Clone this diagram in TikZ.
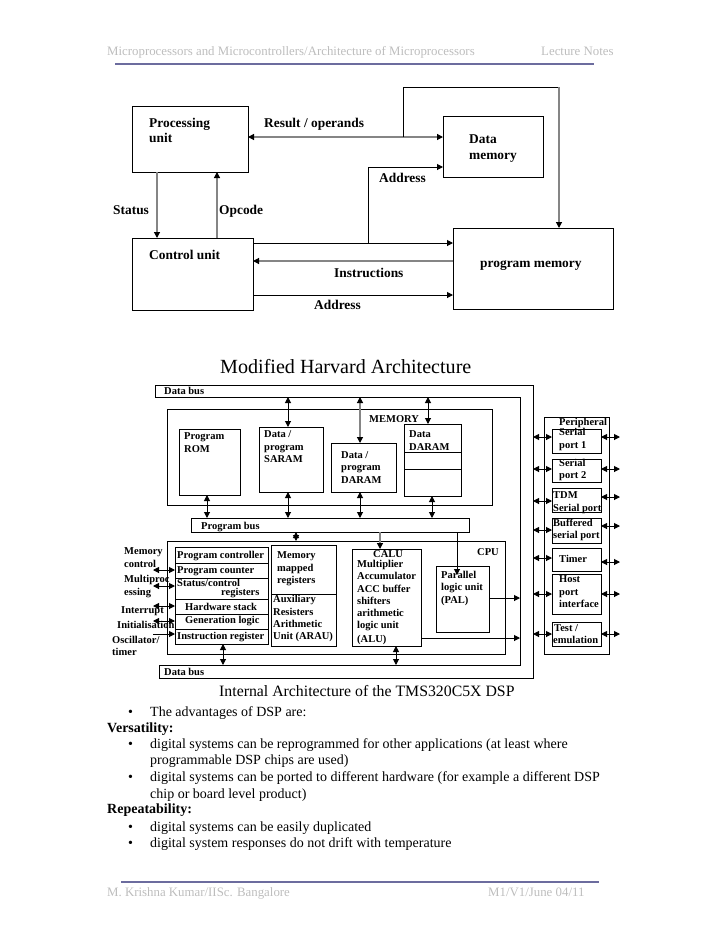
\documentclass[tikz,border=0pt]{standalone}
\usepackage{fontspec}
\setmainfont{Liberation Serif}
\usepackage{xcolor}
\usetikzlibrary{positioning,calc,arrows.meta}
\definecolor{rulecol}{HTML}{6C6C9E}
\definecolor{linkgray}{HTML}{858585}
\definecolor{headgray}{HTML}{BDBDBD}
\tikzset{
    block/.style={draw=black, line width=1pt, inner sep=0pt, outer sep=0pt, anchor=north west},
    band/.style={inner sep=0pt, outer sep=0pt, anchor=north west},
    lbl/.style={anchor=base west, inner sep=0pt, font=\fontsize{13.4}{15}\selectfont\bfseries},
    smalllbl/.style={anchor=base west, inner sep=0pt, font=\fontsize{10.5}{13}\selectfont\bfseries},
    bodytxt/.style={anchor=base west, inner sep=0pt, font=\fontsize{14}{16}\selectfont},
    boldtxt/.style={anchor=base west, inner sep=0pt, font=\fontsize{14}{16}\selectfont\bfseries},
    graytxt/.style={anchor=base west, inner sep=0pt, text=headgray, font=\fontsize{12.85}{15}\selectfont},
    titletxt/.style={anchor=base west, inner sep=0pt},
    link/.style={line width=1pt, >={Triangle[length=6pt,width=6pt]}},
    graylink/.style={link, draw=linkgray, line width=1.2pt, >={Triangle[length=6pt,width=6pt,color=black]}},
    blackrule/.style={draw=rulecol, line width=2pt}
}
% rectangle node given by its corners: name, x1, y1, x2, y2
\newcommand{\blockat}[6][block]{\node[#1, minimum width={(#5-#3)*1pt}, minimum height={(#6-#4)*1pt}] (#2) at (#3,#4) {};}
\begin{document}
\begin{tikzpicture}[x=1pt, y=-1pt]
    \useasboundingbox (0,0) rectangle (728,943);

    % page header
    \node[graytxt] (headleft) at (107,55) {Microprocessors and Microcontrollers/Architecture of Microprocessors};
    \node[graytxt] (headright) at (541,55) {Lecture Notes};
    \coordinate (headA) at (115,64);
    \coordinate (headB) at (594,64);
    \draw[blackrule] (headA) -- (headB);

    % first diagram
    \blockat{proc}{132}{106}{248}{172}
    \blockat{dmem}{443}{116}{543}{177}
    \blockat{ctrl}{132}{238}{253}{310}
    \blockat{pmem}{453}{228}{613}{309}

    \coordinate (resA) at (403,137);
    \coordinate (resB) at (403,87);
    \coordinate (resC) at (559,87);
    \coordinate (addrA) at (368,243);
    \draw[graylink, <->] (proc.east |- resA) -- (dmem.west |- resA);
    \draw[link] (resA) -- (resB) -- (resC);
    \draw[graylink, ->] (resC) -- (pmem.north -| resC);
    \draw[link, ->] (addrA) |- (dmem.west |- 0,167);
    \draw[graylink, ->] (proc.south -| 157,0) -- (ctrl.north -| 157,0);
    \draw[graylink, ->] (ctrl.north -| 217,0) -- (proc.south -| 217,0);
    \draw[link, ->] (ctrl.east |- 0,243) -- (pmem.west |- 0,243);
    \draw[graylink, ->] (pmem.west |- 0,261) -- (ctrl.east |- 0,261);
    \draw[link, ->] (ctrl.east |- 0,295) -- (pmem.west |- 0,295);

    \node[lbl] (procA) at (149,127) {Processing};
    \node[lbl] (procB) at (149,142) {unit};
    \node[lbl] (lresult) at (264,127) {Result / operands};
    \node[lbl] (dmemA) at (469,143) {Data};
    \node[lbl] (dmemB) at (469,159) {memory};
    \node[lbl] (laddrA) at (379,182) {Address};
    \node[lbl] (lstatus) at (113,214) {Status};
    \node[lbl] (lopcode) at (219,214) {Opcode};
    \node[lbl] (ctrlA) at (149,259) {Control unit};
    \node[lbl] (pmemA) at (480,267) {program memory};
    \node[lbl] (linstr) at (334,277) {Instructions};
    \node[lbl] (laddrB) at (314,309) {Address};

    \node[titletxt, font=\fontsize{20.1}{23}\selectfont] (titleA) at (220,373) {Modified Harvard Architecture};

    % second diagram, the bus around the chip
    \node[band, minimum width=378pt, minimum height=12pt] (topbus) at (155,385) {};
    \node[band, minimum width=13pt, minimum height=268pt] (sidebus) at (520,397) {};
    \node[band, minimum width=374pt, minimum height=13pt] (botbus) at (159,665) {};
    \draw[line width=1pt] (topbus.north west) -- (topbus.north east) -- (botbus.south east)
        -- (botbus.south west) -- (botbus.north west) -- (sidebus.south west)
        -- (sidebus.north west) -- (topbus.south west) -- cycle;
    \node[smalllbl] (ltopbus) at (164,394) {Data bus};
    \node[smalllbl] (lbotbus) at (164,675) {Data bus};

    % memory
    \blockat{mem}{167}{409}{492}{505}
    \blockat{rom}{179}{429}{240}{495}
    \blockat{saram}{259}{427}{323}{492}
    \blockat{daramA}{331}{443}{396}{492}
    \blockat{daramB}{404}{424}{461}{496}
    \draw[link] (daramB.west |- 0,452) -- (daramB.east |- 0,452);
    \draw[link] (daramB.west |- 0,469) -- (daramB.east |- 0,469);
    \blockat{pbus}{191}{518}{469}{532}

    \draw[link, <->] (topbus.south -| 288,0) -- (saram.north -| 288,0);
    \draw[graylink, <->] (topbus.south -| 360,0) -- (daramA.north -| 360,0);
    \draw[link, <->] (topbus.south -| 428,0) -- (daramB.north -| 428,0);
    \draw[link, <->] (rom.south -| 207,0) -- (pbus.north -| 207,0);
    \draw[link, <->] (saram.south -| 288,0) -- (pbus.north -| 288,0);
    \draw[link, <->] (daramA.south -| 360,0) -- (pbus.north -| 360,0);
    \draw[link, <->] (daramB.south -| 432,0) -- (pbus.north -| 432,0);

    \node[smalllbl] (lmem) at (369,422) {MEMORY};
    \node[smalllbl] (romA) at (184,439) {Program};
    \node[smalllbl] (romB) at (184,452) {ROM};
    \node[smalllbl] (saramA) at (264,437) {Data /};
    \node[smalllbl] (saramB) at (264,450) {program};
    \node[smalllbl] (saramC) at (264,462) {SARAM};
    \node[smalllbl] (daramAa) at (341,458) {Data /};
    \node[smalllbl] (daramAb) at (341,470) {program};
    \node[smalllbl] (daramAc) at (341,483) {DARAM};
    \node[smalllbl] (daramBa) at (409,437) {Data};
    \node[smalllbl] (daramBb) at (409,450) {DARAM};
    \node[smalllbl] (lpbus) at (201,529) {Program bus};

    % cpu
    \blockat{cpu}{167}{541}{505}{654}
    \blockat{stack}{175}{547}{268}{644}
    \foreach \y in {563,578,599,614,629}
        \draw[link] (stack.west |- 0,\y) -- (stack.east |- 0,\y);
    \blockat{regs}{271}{545}{336}{646}
    \draw[link] (regs.west |- 0,594) -- (regs.east |- 0,594);
    \blockat{calu}{352}{549}{421}{646}
    \blockat{pal}{436}{566}{489}{632}
    \coordinate (palin) at (457,575);

    \draw[link, <->] (pbus.south -| 296,0) -- (cpu.north -| 296,0);
    \draw[graylink, ->] (pbus.south -| 380,0) -- (calu.north -| 380,0);
    \draw[link, ->] (pbus.south -| 457,0) -- (palin);
    \draw[link, ->] (pal.east |- 0,598) -- (sidebus.west |- 0,598);
    \draw[link, ->] (calu.east |- 0,638) -- (sidebus.west |- 0,638);
    \draw[link, <->] (calu.south -| 396,0) -- (botbus.north -| 396,0);
    \draw[link, <->] (stack.south -| 223,0) -- (botbus.north -| 223,0);

    \coordinate (sigA) at (153,570);
    \coordinate (sigB) at (153,586);
    \coordinate (sigC) at (153,606);
    \coordinate (sigD) at (153,621);
    \coordinate (sigE) at (153,634);
    \draw[link, <->] (sigA) -- (stack.west |- sigA);
    \draw[link, <->] (sigB) -- (stack.west |- sigB);
    \draw[link, <->] (sigC) -- (stack.west |- sigC);
    \draw[link, <->] (sigD) -- (stack.west |- sigD);
    \draw[link, ->] (sigE) -- (stack.west |- sigE);

    \node[smalllbl] (lcpu) at (477,555) {CPU};
    \node[smalllbl] (stackA) at (177,558) {Program controller};
    \node[smalllbl] (stackB) at (177,573) {Program counter};
    \node[smalllbl] (stackC) at (177,586) {Status/control};
    \node[smalllbl] (stackD) at (221,595) {registers};
    \node[smalllbl] (stackE) at (185,610) {Hardware stack};
    \node[smalllbl] (stackF) at (185,623) {Generation logic};
    \node[smalllbl] (stackG) at (177,639) {Instruction register};
    \node[smalllbl] (regsA) at (277,558) {Memory};
    \node[smalllbl] (regsB) at (277,571) {mapped};
    \node[smalllbl] (regsC) at (277,583) {registers};
    \node[smalllbl] (regsD) at (273,602) {Auxiliary};
    \node[smalllbl] (regsE) at (273,615) {Resisters};
    \node[smalllbl] (regsF) at (273,627) {Arithmetic};
    \node[smalllbl] (regsG) at (273,639) {Unit (ARAU)};
    \node[smalllbl] (caluA) at (373,557) {CALU};
    \node[smalllbl] (caluB) at (357,567) {Multiplier};
    \node[smalllbl] (caluC) at (357,579) {Accumulator};
    \node[smalllbl] (caluD) at (357,592) {ACC buffer};
    \node[smalllbl] (caluE) at (357,604) {shifters};
    \node[smalllbl] (caluF) at (357,616) {arithmetic};
    \node[smalllbl] (caluG) at (357,628) {logic unit};
    \node[smalllbl] (caluH) at (357,642) {(ALU)};
    \node[smalllbl] (palA) at (441,578) {Parallel};
    \node[smalllbl] (palB) at (441,590) {logic unit};
    \node[smalllbl] (palC) at (441,603) {(PAL)};
    \node[smalllbl] (sigAa) at (124,554) {Memory};
    \node[smalllbl] (sigAb) at (124,567) {control};
    \node[smalllbl] (sigBa) at (124,582) {Multiproc};
    \node[smalllbl] (sigBb) at (124,595) {essing};
    \node[smalllbl] (sigCa) at (121,613) {Interrupt};
    \node[smalllbl] (sigDa) at (117,628) {Initialisation};
    \node[smalllbl] (sigEa) at (112,643) {Oscillator/};
    \node[smalllbl] (sigEb) at (112,655) {timer};

    % peripherals
    \blockat{periph}{544}{417}{609}{654}
    \blockat{serA}{552}{429}{601}{453}
    \blockat{serB}{552}{459}{601}{482}
    \blockat{tdm}{552}{488}{601}{512}
    \blockat{buffd}{552}{518}{601}{543}
    \blockat{timer}{552}{548}{601}{571}
    \blockat{host}{552}{574}{601}{614}
    \blockat{test}{552}{622}{601}{646}

    \foreach \n/\a/\b in {serA/437/437,serB/469/469,tdm/501/497,buffd/530/526,timer/558/562,host/594/594,test/634/634} {
        \coordinate (free\n) at (620,\b);
        \draw[link, <->] (sidebus.east |- 0,\a) -- (\n.west |- 0,\a);
        \draw[link, <->] (\n.east |- free\n) -- (free\n);
    }

    \node[smalllbl] (lperiph) at (559,425) {Peripheral};
    \node[smalllbl] (serAa) at (559,435) {Serial};
    \node[smalllbl] (serAb) at (559,448) {port 1};
    \node[smalllbl] (serBa) at (559,466) {Serial};
    \node[smalllbl] (serBb) at (559,478) {port 2};
    \node[smalllbl] (tdmA) at (553,498) {TDM};
    \node[smalllbl] (tdmB) at (553,511) {Serial port};
    \node[smalllbl] (buffdA) at (553,526) {Buffered};
    \node[smalllbl] (buffdB) at (553,538) {serial port};
    \node[smalllbl] (timerA) at (559,562) {Timer};
    \node[smalllbl] (hostA) at (559,582) {Host};
    \node[smalllbl] (hostB) at (559,595) {port};
    \node[smalllbl] (hostC) at (559,607) {interface};
    \node[smalllbl] (testA) at (554,631) {Test /};
    \node[smalllbl] (testB) at (553,643) {emulation};

    \node[titletxt, font=\fontsize{15.8}{18}\selectfont] (titleB) at (219,696) {Internal Architecture of the TMS320C5X DSP};

    % text below the diagrams
    \node[bodytxt] (bulA) at (128,716) {•};
    \node[bodytxt] (txtA) at (150,716) {The advantages of DSP are:};
    \node[boldtxt] (txtB) at (107,732) {Versatility:};
    \node[bodytxt] (bulB) at (128,748) {•};
    \node[bodytxt] (txtC) at (150,748) {digital systems can be reprogrammed for other applications (at least where};
    \node[bodytxt] (txtD) at (150,764) {programmable DSP chips are used)};
    \node[bodytxt] (bulC) at (128,781) {•};
    \node[bodytxt] (txtE) at (150,781) {digital systems can be ported to different hardware (for example a different DSP};
    \node[bodytxt] (txtF) at (150,798) {chip or board level product)};
    \node[boldtxt] (txtG) at (107,813) {Repeatability:};
    \node[bodytxt] (bulD) at (128,831) {•};
    \node[bodytxt] (txtH) at (150,831) {digital systems can be easily duplicated};
    \node[bodytxt] (bulE) at (128,847) {•};
    \node[bodytxt] (txtI) at (150,847) {digital system responses do not drift with temperature};

    % page footer
    \coordinate (footA) at (121,882);
    \coordinate (footB) at (599,882);
    \draw[blackrule] (footA) -- (footB);
    \node[graytxt] (footleft) at (107,896) {M. Krishna Kumar/IISc. Bangalore};
    \node[graytxt] (footright) at (488,896) {M1/V1/June 04/11};
\end{tikzpicture}
\end{document}
